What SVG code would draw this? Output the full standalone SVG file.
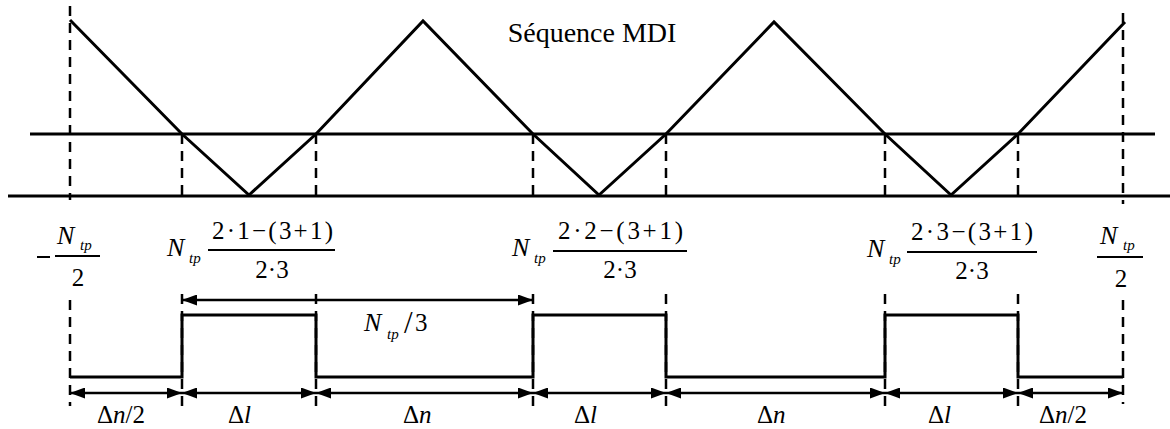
<svg xmlns="http://www.w3.org/2000/svg" width="1170" height="429" viewBox="0 0 1170 429">
<style>
.solid{stroke:#000;stroke-width:3;fill:none;stroke-linejoin:miter}
.axis{stroke:#000;stroke-width:3;fill:none}
.dash{stroke:#000;stroke-width:2.5;stroke-dasharray:10 7;fill:none}
.arr{stroke:#000;stroke-width:2.5;fill:none;marker-start:url(#ah);marker-end:url(#ah)}
.bar{stroke:#000;stroke-width:2}
</style>
<defs>
<marker id="ah" viewBox="0 0 15 11" refX="15" refY="5.5" markerWidth="15" markerHeight="11" markerUnits="userSpaceOnUse" orient="auto-start-reverse">
<path d="M0,0 L15,5.5 L0,11 z" fill="#000"/>
</marker>
</defs>
<rect width="1170" height="429" fill="#fff"/>

<g id="axes">
<line class="axis" x1="30" y1="134" x2="1155" y2="134"/>
<line class="axis" x1="8" y1="196" x2="1170" y2="196"/>
</g>

<g id="carrier">
<polyline class="solid" points="70,20 182,134 249,195 316,134 423,21 533,134 599,195 666,134 774,22 885,134 951,195 1018,134 1125,22"/>
</g>

<g id="title">
<text font-family="Liberation Serif" x="592" y="42" font-size="28" text-anchor="middle">Séquence MDI</text>
</g>

<g id="guides">
<line class="dash" x1="70" y1="6" x2="70" y2="200"/>
<line class="dash" x1="70" y1="300" x2="70" y2="406"/>
<line class="dash" x1="182" y1="134" x2="182" y2="200"/>
<line class="dash" x1="182" y1="294" x2="182" y2="406"/>
<line class="dash" x1="316" y1="134" x2="316" y2="200"/>
<line class="dash" x1="316" y1="294" x2="316" y2="406"/>
<line class="dash" x1="533" y1="134" x2="533" y2="200"/>
<line class="dash" x1="533" y1="294" x2="533" y2="406"/>
<line class="dash" x1="666" y1="134" x2="666" y2="200"/>
<line class="dash" x1="666" y1="294" x2="666" y2="406"/>
<line class="dash" x1="885" y1="134" x2="885" y2="200"/>
<line class="dash" x1="885" y1="294" x2="885" y2="406"/>
<line class="dash" x1="1018" y1="134" x2="1018" y2="200"/>
<line class="dash" x1="1018" y1="294" x2="1018" y2="406"/>
<line class="dash" x1="1123" y1="13" x2="1123" y2="204"/>
<line class="dash" x1="1123" y1="300" x2="1123" y2="404"/>
</g>

<g id="pulses">
<polyline class="solid" points="70,377 182,377 182,315 316,315 316,377 533,377 533,315 666,315 666,377 885,377 885,315 1018,315 1018,377 1123,377"/>
</g>

<g id="connectors">
<line class="arr" x1="182" y1="300" x2="533" y2="300"/>
<line class="arr" x1="70" y1="393" x2="182" y2="393"/>
<line class="arr" x1="182" y1="393" x2="316" y2="393"/>
<line class="arr" x1="316" y1="393" x2="533" y2="393"/>
<line class="arr" x1="533" y1="393" x2="666" y2="393"/>
<line class="arr" x1="666" y1="393" x2="885" y2="393"/>
<line class="arr" x1="885" y1="393" x2="1018" y2="393"/>
<line class="arr" x1="1018" y1="393" x2="1123" y2="393"/>
</g>

<g id="label-left">
<line class="bar" x1="37" y1="257" x2="50" y2="257"/>
<text font-family="Liberation Serif" font-style="italic" x="57" y="244" font-size="26">N</text>
<text font-family="Liberation Serif" font-style="italic" x="80" y="250" font-size="15">tp</text>
<line class="bar" x1="55" y1="256" x2="100" y2="256"/>
<text font-family="Liberation Serif" x="78" y="286" font-size="25" text-anchor="middle">2</text>
</g>

<g id="label-f1">
<text font-family="Liberation Serif" font-style="italic" x="167" y="256" font-size="26">N</text>
<text font-family="Liberation Serif" font-style="italic" x="189" y="263" font-size="15">tp</text>
<text font-family="Liberation Serif" x="212" y="239" font-size="25" textLength="121" lengthAdjust="spacing">2·1−(3+1)</text>
<line class="bar" x1="208" y1="250" x2="335" y2="250"/>
<text font-family="Liberation Serif" x="272" y="278" font-size="25" text-anchor="middle">2·3</text>
</g>

<g id="label-f2">
<text font-family="Liberation Serif" font-style="italic" x="512" y="256" font-size="26">N</text>
<text font-family="Liberation Serif" font-style="italic" x="534" y="263" font-size="15">tp</text>
<text font-family="Liberation Serif" x="558" y="239" font-size="25" textLength="125" lengthAdjust="spacing">2·2−(3+1)</text>
<line class="bar" x1="553" y1="251" x2="687" y2="251"/>
<text font-family="Liberation Serif" x="620" y="278" font-size="25" text-anchor="middle">2·3</text>
</g>

<g id="label-f3">
<text font-family="Liberation Serif" font-style="italic" x="867" y="257" font-size="26">N</text>
<text font-family="Liberation Serif" font-style="italic" x="889" y="264" font-size="15">tp</text>
<text font-family="Liberation Serif" x="911" y="240" font-size="25" textLength="122" lengthAdjust="spacing">2·3−(3+1)</text>
<line class="bar" x1="907" y1="252" x2="1037" y2="252"/>
<text font-family="Liberation Serif" x="972" y="279" font-size="25" text-anchor="middle">2·3</text>
</g>

<g id="label-right">
<text font-family="Liberation Serif" font-style="italic" x="1100" y="244" font-size="26">N</text>
<text font-family="Liberation Serif" font-style="italic" x="1123" y="250" font-size="15">tp</text>
<line class="bar" x1="1097" y1="257" x2="1143" y2="257"/>
<text font-family="Liberation Serif" x="1121" y="287" font-size="25" text-anchor="middle">2</text>
</g>

<g id="label-period">
<text font-family="Liberation Serif" font-style="italic" x="364" y="331" font-size="26">N</text>
<text font-family="Liberation Serif" font-style="italic" x="387" y="339" font-size="15">tp</text>
<text font-family="Liberation Serif" x="404" y="333" font-size="31">/</text>
<text font-family="Liberation Serif" x="415" y="331" font-size="25">3</text>
</g>

<g id="label-bottom">
<text font-family="Liberation Serif" x="97" y="423" font-size="25">Δ<tspan font-style="italic">n</tspan>/2</text>
<text font-family="Liberation Serif" x="228" y="423" font-size="25">Δ<tspan font-style="italic">l</tspan></text>
<text font-family="Liberation Serif" x="403" y="423" font-size="25">Δ<tspan font-style="italic">n</tspan></text>
<text font-family="Liberation Serif" x="574" y="423" font-size="25">Δ<tspan font-style="italic">l</tspan></text>
<text font-family="Liberation Serif" x="757" y="423" font-size="25">Δ<tspan font-style="italic">n</tspan></text>
<text font-family="Liberation Serif" x="928" y="423" font-size="25">Δ<tspan font-style="italic">l</tspan></text>
<text font-family="Liberation Serif" x="1039" y="423" font-size="25">Δ<tspan font-style="italic">n</tspan>/2</text>
</g>
</svg>
